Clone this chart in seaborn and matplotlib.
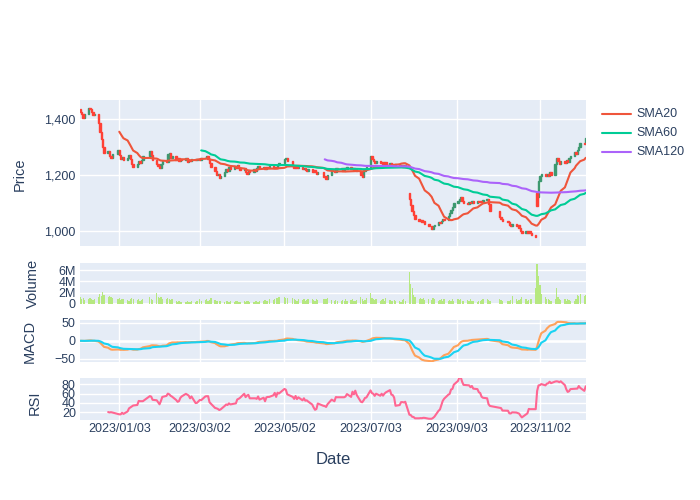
import numpy as np
import pandas as pd
import matplotlib
matplotlib.use("Agg")
import matplotlib.pyplot as plt
from matplotlib.lines import Line2D
from matplotlib.ticker import FixedLocator, FixedFormatter
import seaborn as sns

# ---------------- data ----------------
# trading calendar: weekdays without these exchange holidays
holidays = ["2022-12-30", "2023-01-23", "2023-01-24", "2023-03-01", "2023-05-01", "2023-05-05",
            "2023-05-29", "2023-06-06", "2023-08-15", "2023-09-28", "2023-09-29", "2023-10-02",
            "2023-10-03", "2023-10-09"]

close_dec22 = [1425, 1418, 1405, 1420, 1442, 1436, 1425, 1415, 1420, 1385, 1355, 1330, 1300, 1278, 1285, 1268, 1262, 1275]
close_jan = [1288, 1270, 1258, 1266, 1255, 1262, 1270, 1258, 1240, 1228, 1238, 1250, 1242, 1255, 1268, 1285, 1270, 1255, 1240, 1232]
close_feb = [1225, 1238, 1250, 1245, 1275, 1280, 1262, 1268, 1255, 1260, 1250, 1258, 1252, 1260, 1248, 1255, 1250, 1256, 1252, 1258]
close_mar = [1255, 1260, 1262, 1268, 1258, 1242, 1228, 1215, 1200, 1205, 1190, 1198, 1210, 1222, 1215, 1228, 1222, 1232, 1225, 1235, 1225, 1218]
close_apr = [1225, 1212, 1205, 1218, 1210, 1222, 1215, 1225, 1232, 1225, 1228, 1220, 1230, 1225, 1232, 1226, 1230, 1224, 1235, 1242]
close_may = [1258, 1262, 1250, 1232, 1225, 1232, 1226, 1230, 1222, 1226, 1218, 1214, 1220, 1212, 1218, 1210, 1204, 1212, 1192, 1198]
close_jun = [1186, 1200, 1215, 1210, 1225, 1220, 1226, 1218, 1224, 1220, 1228, 1220, 1225, 1218, 1222, 1215, 1200, 1192, 1215, 1222, 1230]
close_jul = [1268, 1258, 1250, 1244, 1250, 1242, 1248, 1240, 1246, 1238, 1244, 1236, 1240, 1234, 1238, 1232, 1236, 1230, 1235, 1230, 1112]
close_aug = [1092, 1072, 1055, 1042, 1035, 1040, 1030, 1036, 1025, 1015, 1005, 1015, 1022, 1030, 1026, 1035, 1042, 1040, 1052, 1062, 1075, 1086]
close_sep = [1098, 1108, 1115, 1120, 1108, 1100, 1095, 1102, 1098, 1105, 1100, 1106, 1102, 1108, 1104, 1110, 1115, 1095, 1072]
close_oct = [1050, 1042, 1036, 1030, 1022, 1015, 1025, 1018, 1022, 1010, 1000, 990, 998, 992, 1000, 990, 984, 978, 1090]
close_nov = [1180, 1198, 1205, 1195, 1205, 1198, 1210, 1200, 1240, 1262, 1250, 1238, 1250, 1242, 1255, 1248, 1262, 1268, 1282, 1275, 1290, 1302]
close_dec23 = [1315, 1310, 1332]

first_open = 1436
gap_opens = {"2023-07-31": 1135, "2023-10-31": 1135, "2023-11-01": 1122}

# volume in millions
vol_dec22 = [1.3, 0.8, 1.0, 0.7, 0.9, 1.1, 0.8, 0.7, 0.9, 1.2, 1.7, 1.4, 2.2, 1.6, 1.3, 1.5, 1.2, 1.0]
vol_jan = [0.8, 1.0, 0.7, 0.9, 0.8, 0.7, 0.6, 0.9, 1.1, 0.9, 0.7, 0.8, 0.6, 0.7, 0.8, 1.2, 0.8, 0.7, 1.9, 1.2]
vol_feb = [1.0, 1.3, 0.9, 0.8, 1.1, 0.9, 0.7, 0.8, 0.5, 0.4, 0.5, 0.4, 0.3, 0.4, 0.5, 0.4, 0.3, 0.5, 0.4, 0.6]
vol_mar = [0.8, 0.6, 0.7, 0.8, 0.6, 0.7, 1.0, 0.7, 0.6, 0.5, 0.6, 0.5, 0.4, 0.5, 0.6, 0.4, 0.5, 0.4, 0.5, 0.6, 0.4, 0.3]
vol_apr = [0.5, 0.4, 0.6, 0.5, 0.3, 0.4, 0.5, 0.6, 0.4, 0.5, 0.6, 0.7, 0.5, 0.6, 0.8, 0.7, 0.9, 1.0, 1.1, 1.2]
vol_may = [1.2, 1.0, 1.1, 1.0, 0.8, 0.7, 0.6, 0.8, 0.7, 0.9, 0.6, 0.7, 0.8, 0.9, 0.7, 0.6, 0.8, 0.7, 0.9, 0.8]
vol_jun = [0.9, 1.0, 0.7, 0.6, 0.7, 0.5, 0.6, 0.7, 0.5, 0.8, 0.6, 0.7, 0.9, 0.6, 0.5, 0.7, 1.3, 0.8, 0.6, 0.7, 1.0]
vol_jul = [1.9, 1.0, 0.8, 0.7, 0.9, 0.6, 0.7, 0.8, 0.6, 1.1, 0.7, 0.5, 0.6, 0.7, 0.5, 0.6, 0.4, 0.7, 0.9, 0.6, 5.7]
vol_aug = [3.5, 2.8, 1.6, 1.3, 0.9, 1.0, 0.8, 1.1, 0.7, 0.8, 0.7, 1.0, 0.8, 0.6, 0.7, 0.9, 0.6, 0.8, 0.5, 0.7, 0.6, 0.8]
vol_sep = [0.6, 0.8, 0.7, 0.9, 0.6, 0.5, 0.7, 0.6, 0.8, 0.5, 0.6, 0.4, 0.5, 0.6, 0.7, 0.8, 0.9, 0.7, 0.5]
vol_oct = [0.8, 0.7, 0.6, 0.5, 0.6, 0.7, 1.5, 0.8, 0.6, 0.7, 0.9, 1.2, 0.8, 0.6, 0.7, 0.9, 0.8, 2.8, 7.0]
vol_nov = [5.0, 3.3, 1.7, 1.3, 0.8, 0.9, 0.7, 0.6, 0.8, 2.9, 1.2, 0.8, 0.7, 0.9, 0.6, 0.8, 0.7, 0.6, 0.5, 0.9, 1.6, 1.5]
vol_dec23 = [1.7, 1.4, 1.6]

tick_dates = ["2023-01-03", "2023-03-02", "2023-05-02", "2023-07-03", "2023-09-03", "2023-11-02"]
price_ticks = [1000, 1200, 1400]
price_labels = ["1,000", "1,200", "1,400"]
vol_ticks = [0, 2e6, 4e6, 6e6]
vol_labels = ["0", "2M", "4M", "6M"]
macd_ticks = [-50, 0, 50]
macd_labels = ["\u221250", "0", "50"]
rsi_ticks = [20, 40, 60, 80]
rsi_labels = ["20", "40", "60", "80"]

# ---------------- assemble ----------------
dates = pd.bdate_range("2022-12-06", "2023-12-05", freq="C", holidays=holidays)
closes = (close_dec22 + close_jan + close_feb + close_mar + close_apr + close_may + close_jun
          + close_jul + close_aug + close_sep + close_oct + close_nov + close_dec23)
vols = (vol_dec22 + vol_jan + vol_feb + vol_mar + vol_apr + vol_may + vol_jun
        + vol_jul + vol_aug + vol_sep + vol_oct + vol_nov + vol_dec23)
n = min(len(dates), len(closes), len(vols))
dates = dates[:n]
close = pd.Series(closes[:n], index=dates, dtype=float)
volume = pd.Series(vols[:n], index=dates, dtype=float) * 1e6
opens = close.shift(1)
opens.iloc[0] = first_open
for d, v in gap_opens.items():
    if pd.Timestamp(d) in opens.index:
        opens[pd.Timestamp(d)] = v

sma20 = close.rolling(20).mean()
sma60 = close.rolling(60).mean()
sma120 = close.rolling(120).mean()
macd = close.ewm(span=12).mean() - close.ewm(span=26).mean()
signal = macd.ewm(span=9).mean()
delta = close.diff()
gain = delta.clip(lower=0).rolling(14).mean()
loss = (-delta.clip(upper=0)).rolling(14).mean()
rsi = 100 - 100 / (1 + gain / loss)

df = pd.DataFrame({"Date": dates, "close": close.values, "open": opens.values,
                   "volume": volume.values, "sma20": sma20.values, "sma60": sma60.values,
                   "sma120": sma120.values, "macd": macd.values, "signal": signal.values,
                   "rsi": rsi.values})

# ---------------- style ----------------
sns.set_style("darkgrid", {"axes.facecolor": "#E5ECF6", "grid.color": "white"})
plt.rcParams["font.family"] = ["Liberation Sans", "DejaVu Sans"]
TXT = "#2a3f5f"
INC, DEC = "#3D9970", "#FF4136"
C20, C60, C120 = "#EF553B", "#00CC96", "#AB63FA"

W, H = 700, 500
fig = plt.figure(figsize=(7, 5), dpi=100)
fig.patch.set_facecolor("white")

def add_ax(top, bottom):
    return fig.add_axes([80 / W, 1 - bottom / H, (586 - 80) / W, (bottom - top) / H])

ax_p = add_ax(100, 246)
ax_v = add_ax(262.5, 304)
ax_m = add_ax(319.5, 362.3)
ax_r = add_ax(378.3, 420)

xmin = pd.Timestamp("2022-12-05 17:00")
xmax = pd.Timestamp("2023-12-05 05:00")
tdates = pd.to_datetime(tick_dates)

for ax in (ax_p, ax_v, ax_m, ax_r):
    ax.set_facecolor("#E5ECF6")
    for s in ax.spines.values():
        s.set_visible(False)
    ax.tick_params(length=0, labelsize=9, colors=TXT, pad=3)
    ax.grid(True, color="white", linewidth=1.0)
    ax.set_axisbelow(True)

# candles
inc = df["close"] >= df["open"]
for mask, col in ((inc, INC), (~inc, DEC)):
    sub = df[mask]
    ax_p.bar(sub["Date"], sub["close"] - sub["open"], bottom=sub["open"], width=1.0,
             color=col, edgecolor=col, linewidth=1.0, zorder=2)
sns.lineplot(data=df, x="Date", y="sma20", ax=ax_p, color=C20, linewidth=1.5, zorder=3)
sns.lineplot(data=df, x="Date", y="sma60", ax=ax_p, color=C60, linewidth=1.5, zorder=3)
sns.lineplot(data=df, x="Date", y="sma120", ax=ax_p, color=C120, linewidth=1.5, zorder=3)
ax_p.set_ylim(945, 1469)
ax_p.yaxis.set_major_locator(FixedLocator(price_ticks))
ax_p.yaxis.set_major_formatter(FixedFormatter(price_labels))

# volume
ax_v.bar(df["Date"], df["volume"], width=0.9, color="#B6E880", linewidth=0, zorder=2)
ax_v.set_ylim(0, 7.35e6)
ax_v.yaxis.set_major_locator(FixedLocator(vol_ticks))
ax_v.yaxis.set_major_formatter(FixedFormatter(vol_labels))
ax_v.axhline(0, color="white", linewidth=2, zorder=1)

# MACD
ax_m.axhline(0, color="white", linewidth=1.8, zorder=1)
sns.lineplot(data=df, x="Date", y="macd", ax=ax_m, color="#FFA15A", linewidth=1.5, zorder=3)
sns.lineplot(data=df, x="Date", y="signal", ax=ax_m, color="#19D3F3", linewidth=1.5, zorder=3)
ax_m.set_ylim(-60, 59.4)
ax_m.yaxis.set_major_locator(FixedLocator(macd_ticks))
ax_m.yaxis.set_major_formatter(FixedFormatter(macd_labels))

# RSI
sns.lineplot(data=df, x="Date", y="rsi", ax=ax_r, color="#FF6692", linewidth=1.5, zorder=3)
ax_r.set_ylim(3.6, 92.8)
ax_r.yaxis.set_major_locator(FixedLocator(rsi_ticks))
ax_r.yaxis.set_major_formatter(FixedFormatter(rsi_labels))

for ax in (ax_p, ax_v, ax_m, ax_r):
    ax.set_xlim(xmin, xmax)
    ax.set_xticks(tdates)
    ax.set_xlabel("")
    ax.set_ylabel("")
    if ax is not ax_r:
        ax.tick_params(axis="x", labelbottom=False)
ax_v.grid(False, axis="x")
ax_r.set_xticklabels([d.strftime("%Y/%m/%d") for d in tdates])
ax_r.tick_params(axis="x", pad=2.5)

# axis titles
def ftext(x, y, s, **kw):
    fig.text(x / W, 1 - y / H, s, color=TXT, ha="center", va="center", **kw)

ftext(20, 174, "Price", rotation=90, fontsize=10.5)
ftext(33, 283, "Volume", rotation=90, fontsize=10.5)
ftext(29.5, 341, "MACD", rotation=90, fontsize=10.5)
ftext(35, 403, "RSI", rotation=90, fontsize=10.5)
ftext(333, 460, "Date", fontsize=12)

# legend
for i, (lab, col) in enumerate((("SMA20", C20), ("SMA60", C60), ("SMA120", C120))):
    y = 114 + 19.2 * i
    fig.add_artist(Line2D([602 / W, 631 / W], [1 - y / H] * 2, color=col, linewidth=1.5))
    fig.text(636 / W, 1 - y / H, lab, color=TXT, ha="left", va="center", fontsize=9)

fig.savefig("out.png", dpi=100, facecolor="white")
